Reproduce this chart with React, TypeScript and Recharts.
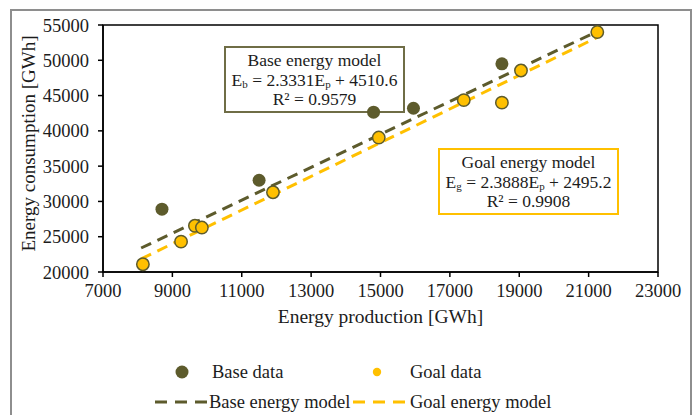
import {
  Label,
  ReferenceArea,
  ReferenceLine,
  Scatter,
  ScatterChart,
  XAxis,
  YAxis,
} from 'recharts'

// Energy production [GWh] / consumption [GWh]
const BASE_PRODUCTION = [8700, 11500, 14800, 15950, 18500]
const BASE_CONSUMPTION = [28900, 33000, 42650, 43200, 49500]

const GOAL_PRODUCTION = [8150, 9250, 9650, 9850, 11900, 14950, 17400, 18500, 19050, 21250]
const GOAL_CONSUMPTION = [21100, 24300, 26550, 26300, 31300, 39050, 44350, 44000, 48550, 54000]

// trend line end points (from the fitted models shown in the boxes)
const BASE_MODEL_X = [8100, 21250]
const BASE_MODEL_Y = [23400, 54100]
const GOAL_MODEL_X = [8100, 21250]
const GOAL_MODEL_Y = [21850, 53250]

const X_TICKS = [7000, 9000, 11000, 13000, 15000, 17000, 19000, 21000, 23000]
const Y_TICKS = [20000, 25000, 30000, 35000, 40000, 45000, 50000, 55000]

const OLIVE = '#5d5b2c'
const GOLD = '#ffc000'
const FONT = "'Liberation Serif', 'Times New Roman', serif"
const INK = '#1c1c1c'

const baseData = BASE_PRODUCTION.map((x, i) => ({ x, y: BASE_CONSUMPTION[i] }))
const goalData = GOAL_PRODUCTION.map((x, i) => ({ x, y: GOAL_CONSUMPTION[i] }))
const toSegment = (xs: number[], ys: number[]) => xs.map((x, i) => ({ x, y: ys[i] }))

const tickStyle = { fontSize: 18.5, fill: INK, fontFamily: FONT }

const Sub = ({ children }: { children: string }) => (
  <span style={{ fontSize: 11, verticalAlign: -2, lineHeight: '10px' }}>{children}</span>
)

function ModelBox({
  left,
  top,
  color,
  title,
  letter,
  slope,
  intercept,
  r2,
}: {
  left: number
  top: number
  color: string
  title: string
  letter: string
  slope: string
  intercept: string
  r2: string
}) {
  return (
    <div
      style={{
        position: 'absolute',
        left,
        top,
        width: 181,
        height: 67,
        boxSizing: 'border-box',
        border: `2px solid ${color}`,
        background: '#fff',
        paddingTop: 3,
        textAlign: 'center',
        fontFamily: FONT,
        fontSize: 17.5,
        lineHeight: '19.5px',
        color: INK,
        whiteSpace: 'nowrap',
      }}
    >
      <div>{title}</div>
      <div>
        E<Sub>{letter}</Sub> = {slope}E<Sub>p</Sub> + {intercept}
      </div>
      <div>R² = {r2}</div>
    </div>
  )
}

export default function App() {
  return (
    <div
      style={{
        position: 'absolute',
        left: 0,
        top: 0,
        width: 697,
        height: 415,
        overflow: 'hidden',
        background: '#fff',
      }}
    >
      <div
        style={{
          position: 'absolute',
          left: 10,
          top: 9,
          width: 682,
          height: 440,
          boxSizing: 'border-box',
          border: '2px solid #8e8e8e',
        }}
      />

      <ModelBox
        left={224}
        top={46}
        color="#6f6d46"
        title="Base energy model"
        letter="b"
        slope="2.3331"
        intercept="4510.6"
        r2="0.9579"
      />
      <ModelBox
        left={438}
        top={148}
        color={GOLD}
        title="Goal energy model"
        letter="g"
        slope="2.3888"
        intercept="2495.2"
        r2="0.9908"
      />

      <ScatterChart
        width={697}
        height={415}
        margin={{ top: 25, right: 39, bottom: 93, left: 0 }}
        style={{ position: 'absolute', left: 0, top: 0 }}
      >
        <XAxis
          type="number"
          dataKey="x"
          domain={[7000, 23000]}
          ticks={X_TICKS}
          interval={0}
          height={50}
          tickSize={5}
          tickMargin={7}
          axisLine={{ stroke: '#000', strokeWidth: 1.5 }}
          tickLine={{ stroke: '#000', strokeWidth: 1.5 }}
          tick={tickStyle}
        >
          <Label
            value="Energy production [GWh]"
            position="insideTop"
            offset={37}
            style={{ fontSize: 19.5, fill: INK, fontFamily: FONT }}
          />
        </XAxis>
        <YAxis
          type="number"
          dataKey="y"
          domain={[20000, 55000]}
          ticks={Y_TICKS}
          interval={0}
          width={103}
          tickSize={5}
          tickMargin={9}
          axisLine={{ stroke: '#000', strokeWidth: 1.5 }}
          tickLine={{ stroke: '#000', strokeWidth: 1.5 }}
          tick={tickStyle}
          label={{
            content: () => (
              <text
                x={28}
                y={143.5}
                transform="rotate(-90 28 143.5)"
                textAnchor="middle"
                dominantBaseline="central"
                style={{ fontSize: 19, fill: INK, fontFamily: FONT }}
              >
                Energy consumption [GWh]
              </text>
            ),
          }}
        />
        <ReferenceArea
          x1={7000}
          x2={23000}
          y1={20000}
          y2={55000}
          fill="none"
          stroke="#000"
          strokeWidth={1.5}
        />
        <Scatter
          name="Base data"
          data={baseData}
          isAnimationActive={false}
          shape={(p: any) => <circle cx={p.cx} cy={p.cy} r={6.5} fill={OLIVE} />}
        />
        <Scatter
          name="Goal data"
          data={goalData}
          isAnimationActive={false}
          shape={(p: any) => (
            <circle cx={p.cx} cy={p.cy} r={6.2} fill={GOLD} stroke={OLIVE} strokeWidth={1.5} />
          )}
        />
        <ReferenceLine
          segment={toSegment(GOAL_MODEL_X, GOAL_MODEL_Y)}
          stroke={GOLD}
          strokeWidth={3}
          strokeDasharray="11 7"
        />
        <ReferenceLine
          segment={toSegment(BASE_MODEL_X, BASE_MODEL_Y)}
          stroke={OLIVE}
          strokeWidth={3}
          strokeDasharray="11 7"
        />
      </ScatterChart>

      <svg
        width={697}
        height={415}
        style={{ position: 'absolute', left: 0, top: 0, pointerEvents: 'none' }}
      >
        <g style={{ fontFamily: FONT, fontSize: 18.5, fill: INK }}>
          <circle cx={182} cy={372} r={6.5} fill={OLIVE} />
          <text x={212} y={372} dominantBaseline="central">Base data</text>
          <circle cx={377} cy={372} r={4.2} fill={GOLD} />
          <text x={410} y={372} dominantBaseline="central">Goal data</text>
          <line x1={155} y1={402} x2={207} y2={402} stroke={OLIVE} strokeWidth={3} strokeDasharray="12 8" />
          <text x={209} y={402} dominantBaseline="central">Base energy model</text>
          <line x1={353} y1={402} x2={405} y2={402} stroke={GOLD} strokeWidth={3} strokeDasharray="12 8" />
          <text x={410} y={402} dominantBaseline="central">Goal energy model</text>
        </g>
      </svg>
    </div>
  )
}
